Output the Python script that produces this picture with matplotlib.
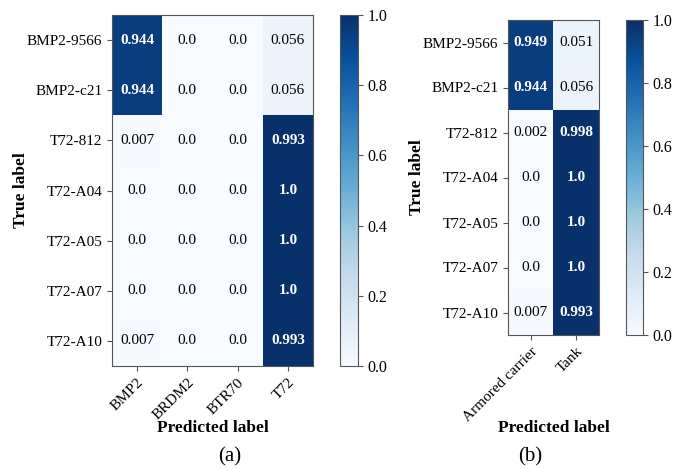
import numpy as np
import matplotlib
matplotlib.use("Agg")
import matplotlib.pyplot as plt

plt.rcParams['font.family'] = ['Liberation Serif', 'DejaVu Serif']
plt.rcParams['font.size'] = 11

true_labels = ["BMP2-9566", "BMP2-c21", "T72-812", "T72-A04", "T72-A05", "T72-A07", "T72-A10"]
pred_labels_a = ["BMP2", "BRDM2", "BTR70", "T72"]
pred_labels_b = ["Armored carrier", "Tank"]

cm_a = np.array([
    [0.944, 0.0, 0.0, 0.056],
    [0.944, 0.0, 0.0, 0.056],
    [0.007, 0.0, 0.0, 0.993],
    [0.0, 0.0, 0.0, 1.0],
    [0.0, 0.0, 0.0, 1.0],
    [0.0, 0.0, 0.0, 1.0],
    [0.007, 0.0, 0.0, 0.993],
])

cm_b = np.array([
    [0.949, 0.051],
    [0.944, 0.056],
    [0.002, 0.998],
    [0.0, 1.0],
    [0.0, 1.0],
    [0.0, 1.0],
    [0.007, 0.993],
])

cbar_ticks = [0.0, 0.2, 0.4, 0.6, 0.8, 1.0]

W, H = 679, 470
fig = plt.figure(figsize=(W / 100, H / 100), dpi=100)


def px_axes(x0, y0, x1, y1):
    return fig.add_axes([x0 / W, 1 - y1 / H, (x1 - x0) / W, (y1 - y0) / H])


def draw_cm(ax, cax, cm, xlabels, ylabels, box, ylab_x, xlab_y):
    im = ax.imshow(cm, cmap="Blues", vmin=0, vmax=1, aspect="auto",
                   interpolation="nearest")
    ax.set_xticks(range(len(xlabels)))
    ax.set_xticklabels(xlabels, rotation=45, ha="right", rotation_mode="anchor")
    ax.set_yticks(range(len(ylabels)))
    ax.set_yticklabels(ylabels)
    for i in range(cm.shape[0]):
        for j in range(cm.shape[1]):
            v = cm[i, j]
            dark = v > 0.5
            ax.text(j, i, str(v), ha="center", va="center",
                    color="white" if dark else "black",
                    fontweight="bold" if dark else "normal", fontsize=11)
    x0, y0, x1, y1 = box
    ax.set_xlabel("Predicted label", fontweight="bold", fontsize=12.5, va="center")
    ax.xaxis.set_label_coords((x0 + x1) / 2 / W, 1 - xlab_y / H,
                              transform=fig.transFigure)
    ax.set_ylabel("True label", fontweight="bold", fontsize=12.5, va="center")
    ax.yaxis.set_label_coords(ylab_x / W, 1 - (y0 + y1) / 2 / H,
                              transform=fig.transFigure)
    for s in ax.spines.values():
        s.set_color("#555555")
    ax.tick_params(color="#555555")
    cb = fig.colorbar(im, cax=cax, ticks=cbar_ticks)
    cb.ax.set_yticklabels([f"{t:.1f}" for t in cbar_ticks])
    cb.outline.set_edgecolor("#555555")
    cb.ax.tick_params(color="#555555", labelsize=11.5)
    return ax


box_a = (112, 15, 313, 366)
ax_a = px_axes(*box_a)
cax_a = px_axes(340, 15, 358, 366)
draw_cm(ax_a, cax_a, cm_a, pred_labels_a, true_labels, box_a, 21, 428)

box_b = (508, 20, 599, 335)
ax_b = px_axes(*box_b)
cax_b = px_axes(626, 20, 643, 335)
draw_cm(ax_b, cax_b, cm_b, pred_labels_b, true_labels, box_b, 417, 428)

fig.text(230 / W, 1 - 457 / H, "(a)", ha="center", va="center", fontsize=15)
fig.text(530 / W, 1 - 457 / H, "(b)", ha="center", va="center", fontsize=15)

fig.savefig("out.png", dpi=100)
